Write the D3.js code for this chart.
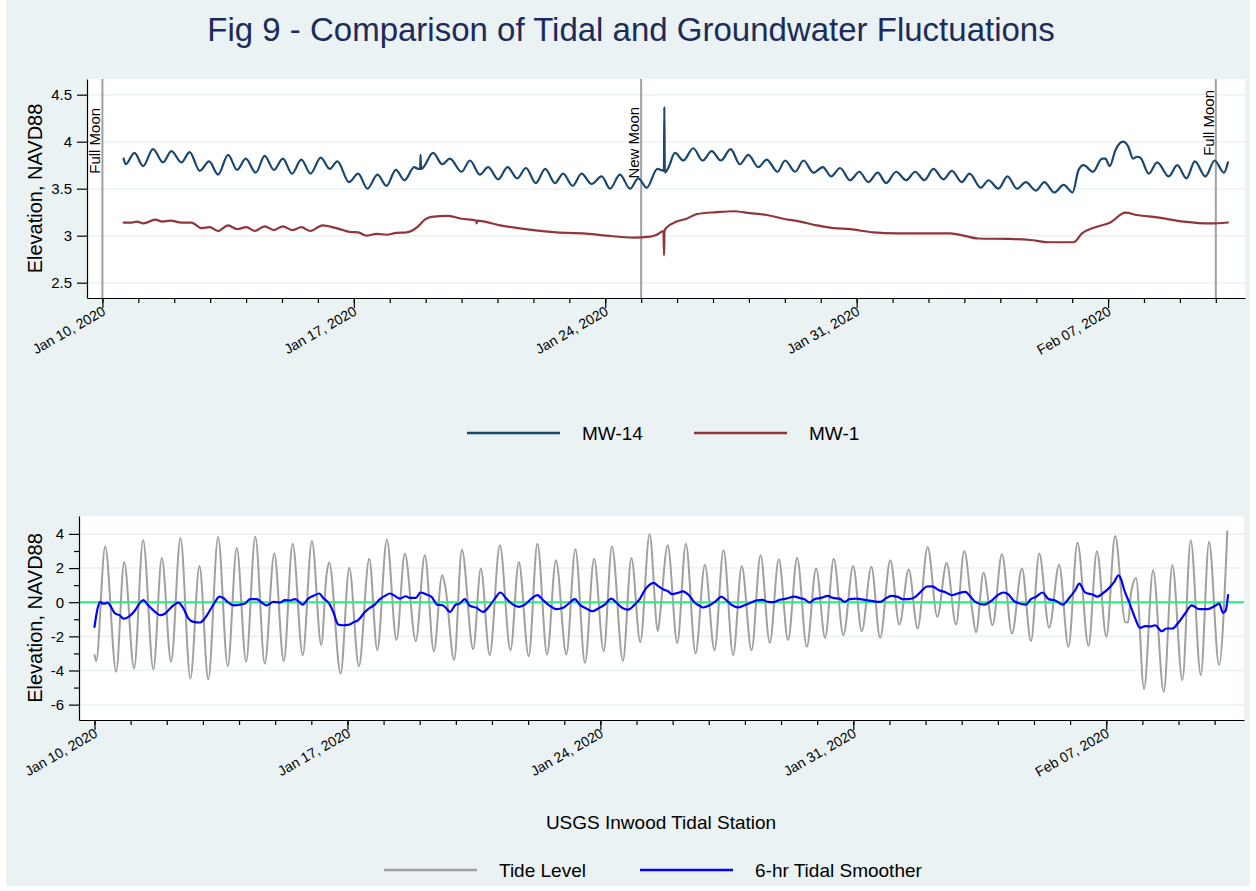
<!DOCTYPE html>
<html lang="en">
<head>
<meta charset="UTF-8">
<title>Fig 9 - Comparison of Tidal and Groundwater Fluctuations</title>
<style>
    body {
        margin: 0;
        background: #ffffff;
        font-family: 'Liberation Sans', Arial, sans-serif;
    }
    svg text { fill: #000; }
    .axis path, .axis line { stroke: #000; stroke-width: 1.2px; }
    .axis text { font-size: 15px; font-family: 'Liberation Sans', Arial, sans-serif; }
    .series { fill: none; stroke-linejoin: round; stroke-linecap: round; }
</style>
</head>
<body>
<svg id="chart" width="1256" height="891"></svg>

<script src="https://d3js.org/d3.v7.min.js"></script>
<script>
// time is hours since Jan 10 2020 00:00
const T0 = Date.UTC(2020, 0, 10);
const toDate = h => new Date(T0 + h * 3600e3);
const xDomainHours = [-10.3, 763.5];

const majorTicks = ['2020-01-10', '2020-01-17', '2020-01-24', '2020-01-31', '2020-02-07'];
const moonDates = ['2020-01-10', '2020-01-25', '2020-02-10'];
const moonLabels = ['Full Moon', 'New Moon', 'Full Moon'];
const moonLabelTop = [4.36, 4.37, 4.55];

const topTicks = [2.5, 3, 3.5, 4, 4.5];
const bottomTicks = [-6, -4, -2, 0, 2, 4];
const bottomMinor = [-5, -3, -1, 1, 3];

const seriesTop = ['MW-14', 'MW-1'];
const seriesBottom = ['Tide Level', '6-hr Tidal Smoother'];

// MW-14 groundwater elevation [hour, ft]
const mw14 = [[14.2,3.82],[15.6,3.76],[21.4,3.88],[27.2,3.74],[33.8,3.92],[40.5,3.78],[46.1,3.90],[52.8,3.78],[58.3,3.89],[65.0,3.69],[71.3,3.79],[77.3,3.65],[84.0,3.86],[90.0,3.70],[95.8,3.82],[102.5,3.67],[108.4,3.85],[114.6,3.70],[120.6,3.82],[126.7,3.66],[132.9,3.81],[139.1,3.66],[145.9,3.83],[151.9,3.71],[157.0,3.79],[164.8,3.57],[170.9,3.66],[177.1,3.50],[183.8,3.65],[189.8,3.53],[196.1,3.70],[201.8,3.59],[208.4,3.73],[211.0,3.71],[212.3,3.71],[212.6,3.86],[212.9,3.71],[214.0,3.72],[221.0,3.88],[227.1,3.76],[232.2,3.82],[240.0,3.68],[245.6,3.80],[252.2,3.65],[257.8,3.73],[264.5,3.60],[270.7,3.73],[277.2,3.61],[283.0,3.72],[289.6,3.56],[295.9,3.71],[302.4,3.56],[307.9,3.66],[314.2,3.53],[320.2,3.66],[326.9,3.55],[333.6,3.63],[339.2,3.50],[345.8,3.65],[352.6,3.50],[358.1,3.61],[363.7,3.51],[370.8,3.71],[373.1,3.70],[375.2,3.69],[375.5,4.37],[375.8,3.67],[378.1,3.72],[382.6,3.88],[388.2,3.80],[394.8,3.93],[401.1,3.80],[407.1,3.90],[413.3,3.80],[419.8,3.92],[426.0,3.76],[431.6,3.86],[438.3,3.73],[443.9,3.81],[451.1,3.68],[456.2,3.80],[462.9,3.68],[468.5,3.80],[475.2,3.67],[481.4,3.73],[487.0,3.63],[492.9,3.72],[499.6,3.59],[505.8,3.68],[511.8,3.57],[518.1,3.67],[523.7,3.56],[530.4,3.68],[537.1,3.59],[543.1,3.68],[549.3,3.59],[555.3,3.71],[562.0,3.60],[567.6,3.69],[574.3,3.57],[579.4,3.66],[587.0,3.51],[592.1,3.59],[598.8,3.50],[604.8,3.63],[611.1,3.50],[617.1,3.57],[623.8,3.48],[629.4,3.57],[636.1,3.46],[642.3,3.54],[648.3,3.46],[652.3,3.70],[655.7,3.75],[661.9,3.68],[668.0,3.82],[670.2,3.82],[673.1,3.74],[676.9,3.91],[682.0,4.00],[685.4,3.95],[688.7,3.82],[691.4,3.84],[693.6,3.83],[699.2,3.66],[704.8,3.78],[712.6,3.63],[718.2,3.75],[724.4,3.61],[730.0,3.79],[737.1,3.63],[743.2,3.80],[749.4,3.67],[752.1,3.78]];

// MW-1 groundwater elevation [hour, ft]
const mw1 = [[14.2,3.14],[19.7,3.14],[23.1,3.15],[27.5,3.13],[35.3,3.17],[40.0,3.15],[45.6,3.16],[52.8,3.14],[59.5,3.14],[66.2,3.08],[71.8,3.09],[77.3,3.05],[84.0,3.11],[90.0,3.07],[96.3,3.09],[101.8,3.05],[108.4,3.10],[114.6,3.06],[120.6,3.10],[126.7,3.06],[132.9,3.09],[138.9,3.05],[147.0,3.11],[158.6,3.07],[165.3,3.04],[170.9,3.035],[176.5,3.00],[183.2,3.02],[189.8,3.01],[196.5,3.03],[203.2,3.035],[211.0,3.10],[215.4,3.17],[219.9,3.20],[231.1,3.21],[240.0,3.18],[249.8,3.16],[250.1,3.13],[250.4,3.16],[265.6,3.11],[287.9,3.06],[310.2,3.03],[321.3,3.025],[336.9,3.00],[354.8,2.98],[366.0,2.99],[370.4,3.01],[374.9,3.05],[375.3,2.79],[375.6,3.05],[376.6,3.08],[383.7,3.15],[390.4,3.18],[397.1,3.23],[410.4,3.25],[421.6,3.26],[432.7,3.24],[443.9,3.22],[455.0,3.18],[466.2,3.15],[477.4,3.11],[488.5,3.08],[499.6,3.07],[515.2,3.035],[530.8,3.025],[548.7,3.025],[566.4,3.025],[585.4,2.97],[606.6,2.965],[620.0,2.954],[633.4,2.93],[649.0,2.93],[654.6,3.025],[662.4,3.085],[673.5,3.14],[683.5,3.245],[691.3,3.22],[704.8,3.195],[722.6,3.15],[740.4,3.13],[752.1,3.14]];

// Inwood tide level, highs and lows [hour, ft]
const tide = [[0,-3.10],[1.1,-3.45],[7.1,3.27],[14.4,-4.07],[19.7,2.36],[26.3,-3.88],[32.3,3.63],[39.1,-3.94],[44.7,2.59],[50.9,-3.49],[57.1,3.76],[63.7,-4.46],[69.7,2.12],[75.6,-4.52],[82.1,3.82],[88.5,-3.74],[94.5,3.18],[100.7,-3.49],[106.8,3.84],[113.1,-3.59],[119.4,2.85],[125.7,-3.45],[131.6,3.43],[138.3,-3.10],[144.4,3.59],[150.6,-2.51],[154.2,1.68],[155.9,2.32],[163.5,-4.17],[169.2,2.01],[175.6,-3.75],[182.5,2.55],[187.8,-2.81],[194.2,3.66],[200.6,-2.22],[206.1,2.85],[213.4,-2.28],[219.4,2.75],[225.4,-2.87],[230.9,1.58],[233.0,0.9],[238.9,-3.39],[244.0,3.08],[251.5,-2.75],[256.6,1.97],[262.5,-3.10],[269.2,3.33],[276.3,-2.81],[281.8,2.36],[288.4,-3.16],[294.2,3.43],[300.6,-3.06],[306.5,2.46],[313.4,-3.06],[319.4,3.10],[325.8,-3.55],[331.8,2.55],[338.2,-2.87],[343.7,3.27],[351.0,-3.43],[356.6,2.59],[362.5,-2.34],[368.7,3.98],[374.2,-1.70],[375.8,-0.57],[380.7,3.33],[387.1,-2.38],[392.8,3.43],[399.2,-3.00],[405.4,2.20],[411.8,-2.81],[417.8,3.04],[424.2,-3.10],[429.9,2.12],[436.4,-2.81],[442.4,2.75],[448.5,-2.38],[454.5,2.51],[460.7,-2.22],[466.7,2.61],[473.1,-2.61],[479.3,1.97],[485.3,-2.09],[491.0,2.55],[497.4,-1.93],[503.9,2.12],[509.6,-1.70],[516.0,2.07],[521.8,-2.09],[528.6,2.46],[534.6,-1.31],[540.8,1.91],[546.7,-1.54],[553.4,3.24],[559.8,-0.86],[566.0,2.30],[572.2,-1.31],[577.7,3.00],[582.8,-0.37],[585.5,-1.77],[590.5,1.73],[596.5,-1.35],[602.7,2.81],[609.4,-1.83],[616.0,1.97],[622.0,-2.28],[627.5,2.85],[634.1,-1.50],[640.7,2.20],[646.9,-2.61],[652.9,3.49],[660.2,-2.55],[665.8,2.98],[672.1,-2.03],[677.9,3.88],[684.5,-1.15],[686.5,-1.19],[688.5,0.57],[691.8,1.42],[697.1,-5.09],[703.1,1.87],[710.2,-5.24],[715.9,2.16],[722.6,-4.56],[728.1,3.63],[734.8,-4.27],[740.3,3.53],[746.9,-3.68],[752.4,4.15]];

// 6-hr tidal smoother [hour, ft]
const smoother = [[0,-1.44],[2.0,-0.39],[3.8,0.02],[5.5,-0.08],[7.1,-0.08],[8.6,-0.02],[13.7,-0.66],[16.6,-0.76],[19.3,-0.96],[22.6,-0.86],[27.0,-0.47],[30.3,-0.02],[32.5,0.12],[35.2,-0.14],[40.3,-0.57],[43.6,-0.76],[46.9,-0.66],[51.3,-0.27],[55.7,-0.02],[59.1,-0.37],[62.4,-0.96],[65.7,-1.15],[70.1,-1.19],[72.3,-1.05],[76.7,-0.47],[80.1,0.02],[82.9,0.33],[85.6,0.25],[88.9,-0.02],[92.2,-0.18],[96.7,-0.14],[100.0,-0.08],[103.3,0.18],[107.7,0.18],[111.1,-0.02],[114.4,-0.18],[118.8,0.02],[123.2,-0.02],[126.5,0.12],[129.9,0.10],[133.2,0.18],[138.3,-0.14],[142.0,0.21],[145.3,0.37],[149.3,0.51],[151.9,0.25],[155.9,-0.08],[158.6,-0.57],[161.9,-1.31],[165.2,-1.35],[168.5,-1.33],[171.8,-1.19],[175.2,-1.05],[179.6,-0.57],[182.9,-0.33],[186.2,-0.14],[189.6,0.18],[192.9,0.37],[196.2,0.51],[199.5,0.37],[202.8,0.21],[206.8,0.35],[209.5,0.25],[213.4,0.25],[216.5,0.57],[220.5,0.45],[223.9,0.31],[227.6,-0.14],[231.2,-0.18],[233.8,-0.37],[236.0,-0.57],[240.0,-0.14],[242.7,-0.08],[245.9,0.18],[249.3,-0.21],[253.7,-0.33],[258.1,-0.57],[261.4,-0.33],[265.9,0.21],[269.6,0.57],[273.6,0.21],[278.0,-0.14],[282.0,-0.27],[285.8,-0.14],[290.2,0.21],[294.2,0.41],[297.9,0.12],[302.4,-0.21],[306.8,-0.41],[311.2,-0.33],[315.7,-0.02],[319.0,0.18],[322.3,-0.14],[326.7,-0.37],[330.7,-0.53],[334.5,-0.37],[338.9,-0.14],[343.3,0.21],[346.6,-0.02],[350.6,-0.33],[354.4,-0.43],[358.8,-0.14],[362.1,0.18],[365.4,0.70],[368.6,1.01],[371.4,1.13],[374.2,0.96],[377.6,0.76],[380.9,0.64],[383.8,0.47],[387.5,0.55],[390.8,0.64],[394.8,0.41],[398.6,-0.02],[401.9,-0.21],[404.1,-0.31],[408.5,-0.18],[412.9,0.08],[416.3,0.33],[419.6,0.12],[423.6,-0.18],[427.4,-0.31],[431.8,-0.18],[436.2,-0.02],[439.5,0.10],[443.5,0.14],[447.3,0.02],[450.6,0.0],[455.0,0.14],[459.4,0.21],[465.0,0.33],[468.3,0.25],[471.6,0.18],[475.0,-0.02],[478.3,0.18],[482.7,0.25],[487.1,0.37],[490.4,0.25],[494.9,0.21],[498.2,0.02],[501.5,0.18],[505.9,0.21],[511.4,0.14],[517.0,0.06],[521.8,0.02],[525.4,0.21],[529.2,0.37],[533.6,0.31],[536.9,0.18],[540.9,0.18],[545.3,0.31],[549.1,0.64],[552.8,0.92],[556.4,0.93],[560.6,0.72],[565.5,0.57],[569.5,0.41],[573.3,0.51],[578.4,0.60],[581.0,0.41],[585.0,0.02],[591.0,-0.14],[595.4,0.06],[599.9,0.41],[603.6,0.57],[607.2,0.45],[610.9,0.06],[618.6,-0.14],[622.0,0.18],[625.3,0.31],[629.7,0.57],[633.7,0.18],[638.1,0.10],[643.0,-0.14],[647.4,0.25],[651.4,0.70],[654.1,1.09],[658.0,0.57],[662.9,0.45],[666.2,0.33],[669.5,0.51],[674.0,0.84],[677.3,1.19],[680.2,1.58],[681.7,1.38],[684.0,0.70],[687.3,-0.02],[691.3,-0.96],[694.4,-1.50],[697.9,-1.40],[701.7,-1.42],[704.5,-1.35],[708.9,-1.70],[712.0,-1.54],[716.0,-1.54],[720.0,-1.19],[724.4,-0.66],[728.8,-0.18],[733.7,-0.41],[739.2,-0.41],[744.3,-0.21],[747.0,-0.08],[749.6,-0.62],[751.4,-0.47],[752.9,0.41]];

const width = 1256, height = 891;
const svg = d3.select('#chart');
const parseDay = d3.utcParse('%Y-%m-%d');
const fmtDay = d3.utcFormat('%b %d, %Y');
const FONT = "'Liberation Sans', Arial, sans-serif";

// graph region background
svg.append('rect')
    .attr('x', 6).attr('y', 0)
    .attr('width', width - 12).attr('height', height - 5)
    .attr('fill', '#eaf2f3');

svg.append('text')
    .attr('x', 631).attr('y', 41)
    .attr('text-anchor', 'middle')
    .style('font-family', FONT).style('font-size', '33px')
    .style('fill', '#1c2b59')
    .text('Fig 9 - Comparison of Tidal and Groundwater Fluctuations');

function drawPanel(p) {
    const x = d3.scaleUtc().domain(xDomainHours.map(toDate)).range([p.left, p.right]);
    const y = d3.scaleLinear().domain(p.yDomain).range([p.bottom, p.top]);
    const g = svg.append('g');

    g.append('rect')
        .attr('x', p.left).attr('y', p.top)
        .attr('width', p.right - p.left).attr('height', p.bottom - p.top)
        .attr('fill', '#fff');

    g.append('g').selectAll('line')
        .data(p.yTicks)
        .join('line')
        .attr('x1', p.left).attr('x2', p.right)
        .attr('y1', d => y(d)).attr('y2', d => y(d))
        .attr('stroke', '#eaf2f3').attr('stroke-width', 1.6);

    const clipId = 'clip' + p.id;
    svg.append('clipPath').attr('id', clipId)
        .append('rect')
        .attr('x', p.left).attr('y', p.top)
        .attr('width', p.right - p.left).attr('height', p.bottom - p.top);

    const plot = g.append('g').attr('clip-path', `url(#${clipId})`);
    p.draw(plot, x, y);

    // y axis
    g.append('g').attr('class', 'axis')
        .attr('transform', `translate(${p.left},0)`)
        .call(d3.axisLeft(y).tickValues(p.yTicks).tickSize(10).tickSizeOuter(0)
            .tickPadding(5).tickFormat(d => String(d)));
    if (p.yMinor) {
        g.append('g').attr('class', 'axis')
            .attr('transform', `translate(${p.left},0)`)
            .call(d3.axisLeft(y).tickValues(p.yMinor).tickSize(5).tickSizeOuter(0).tickFormat(''))
            .select('.domain').remove();
    }

    // x axis: daily minor ticks, weekly major ticks
    const days = d3.utcDay.range(...x.domain().map((d, i) => i ? d : d3.utcDay.ceil(d)));
    g.append('g').attr('class', 'axis')
        .attr('transform', `translate(0,${p.bottom})`)
        .call(d3.axisBottom(x).tickValues(days).tickSize(5).tickSizeOuter(0).tickFormat(''));
    const majors = majorTicks.map(parseDay);
    g.append('g').attr('class', 'axis')
        .attr('transform', `translate(0,${p.bottom})`)
        .call(d3.axisBottom(x).tickValues(majors).tickSize(10).tickSizeOuter(0).tickFormat(''))
        .select('.domain').remove();

    g.append('g').selectAll('text')
        .data(majors)
        .join('text')
        .attr('transform', d => `translate(${x(d) + 4},${p.bottom + 16}) rotate(-30)`)
        .attr('text-anchor', 'end')
        .style('font-family', FONT).style('font-size', '14px')
        .text(d => fmtDay(d));

    svg.append('text')
        .attr('transform', `translate(${p.labelX},${(p.top + p.bottom) / 2}) rotate(-90)`)
        .attr('text-anchor', 'middle')
        .style('font-family', FONT).style('font-size', '20px')
        .text('Elevation, NAVD88');

    return {x, y};
}

const line = (x, y) => d3.line()
    .x(d => x(toDate(d[0])))
    .y(d => y(d[1]))
    .curve(d3.curveMonotoneX);

// top panel: groundwater
drawPanel({
    id: 'top', left: 87, right: 1245, top: 79, bottom: 298,
    yDomain: [2.337, 4.667], yTicks: topTicks, labelX: 42,
    draw(plot, x, y) {
        const moons = moonDates.map(parseDay);
        plot.selectAll('.moon')
            .data(moons)
            .join('line')
            .attr('x1', d => x(d)).attr('x2', d => x(d))
            .attr('y1', y.range()[1]).attr('y2', y.range()[0])
            .attr('stroke', '#a0a0a0').attr('stroke-width', 2);
        plot.selectAll('.moonLabel')
            .data(moons)
            .join('text')
            .attr('transform', (d, i) => `translate(${x(d) - 2},${y(moonLabelTop[i])}) rotate(-90)`)
            .attr('text-anchor', 'end')
            .style('font-family', FONT).style('font-size', '15px')
            .text((d, i) => moonLabels[i]);

        plot.append('path').datum(mw1).attr('class', 'series')
            .attr('d', line(x, y))
            .attr('stroke', '#90353b').attr('stroke-width', 2.2);
        plot.append('path').datum(mw14).attr('class', 'series')
            .attr('d', line(x, y))
            .attr('stroke', '#1a476f').attr('stroke-width', 2.2);
    }
});

// bottom panel: tide
drawPanel({
    id: 'bot', left: 79, right: 1244, top: 516, bottom: 720,
    yDomain: [-6.9, 5.05], yTicks: bottomTicks, yMinor: bottomMinor, labelX: 42,
    draw(plot, x, y) {
        plot.append('path').datum(tide).attr('class', 'series')
            .attr('d', line(x, y))
            .attr('stroke', '#a0a0a0').attr('stroke-width', 2);
        plot.append('line')
            .attr('x1', x.range()[0]).attr('x2', x.range()[1])
            .attr('y1', y(0)).attr('y2', y(0))
            .attr('stroke', '#27ef7c').attr('stroke-width', 2);
        plot.append('path').datum(smoother).attr('class', 'series')
            .attr('d', line(x, y))
            .attr('stroke', '#0000ff').attr('stroke-width', 2.2);
    }
});

svg.append('text')
    .attr('x', 661).attr('y', 829)
    .attr('text-anchor', 'middle')
    .style('font-family', FONT).style('font-size', '19px')
    .text('USGS Inwood Tidal Station');

function legend(names, colors, lineX, cy) {
    const lg = svg.append('g');
    names.forEach((n, i) => {
        lg.append('line')
            .attr('x1', lineX[i]).attr('x2', lineX[i] + 93)
            .attr('y1', cy).attr('y2', cy)
            .attr('stroke', colors[i]).attr('stroke-width', 2.5);
        lg.append('text')
            .attr('x', lineX[i] + 115).attr('y', cy + 7)
            .style('font-family', FONT).style('font-size', '19px')
            .text(n);
    });
}
legend(seriesTop, ['#1a476f', '#90353b'], [467, 694], 433);
legend(seriesBottom, ['#a0a0a0', '#0000ff'], [384, 640], 870);
</script>
</body>
</html>
